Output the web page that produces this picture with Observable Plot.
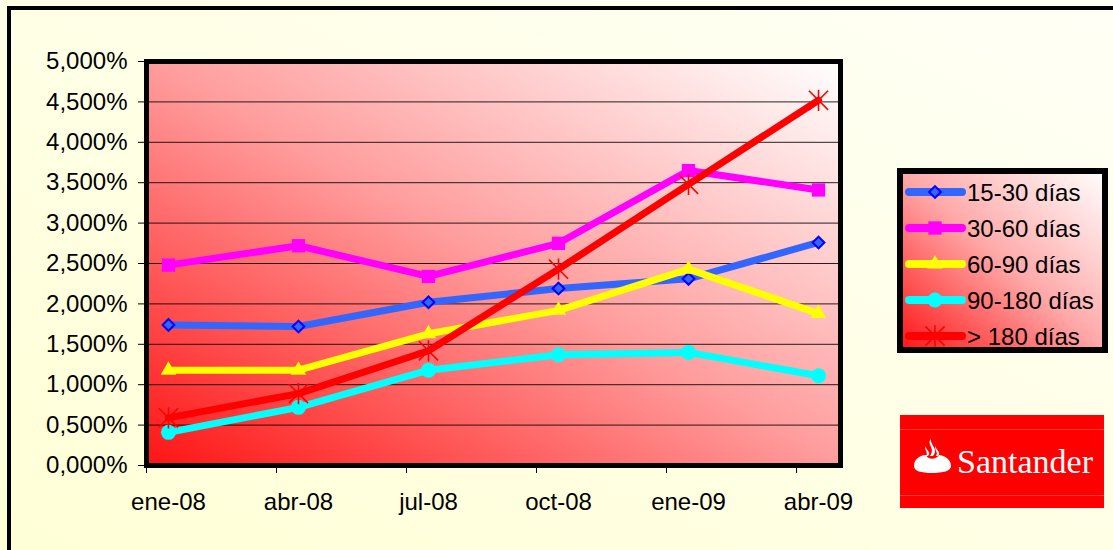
<!DOCTYPE html>
<html><head><meta charset="utf-8">
<script src="https://cdn.jsdelivr.net/npm/d3@7"></script>
<script src="https://cdn.jsdelivr.net/npm/@observablehq/plot@0.6"></script>
<style>
html,body{margin:0;padding:0;width:1113px;height:550px;overflow:hidden;}
body{background:linear-gradient(to top right,#FFFFD6,#FFFFF6);font-family:"Liberation Sans",Arial,sans-serif;position:relative;}
#frame{position:absolute;left:7px;top:6px;width:1200px;height:700px;border-left:4px solid #000;border-top:4px solid #000;}
#chart{position:absolute;left:0;top:0;}
.overlay{position:absolute;left:0;top:0;pointer-events:none;}
</style></head><body>
<div id="frame"></div>
<div id="chart"></div>
<script>
// ---- data ----
const categories = ["ene-08","abr-08","jul-08","oct-08","ene-09","abr-09"];
const seriesNames = ["15-30 días","30-60 días","60-90 días","90-180 días","> 180 días"];
const s15_30  = [1.74, 1.72, 2.02, 2.19, 2.31, 2.76];
const s30_60  = [2.48, 2.72, 2.34, 2.75, 3.65, 3.41];
const s60_90  = [1.18, 1.18, 1.63, 1.92, 2.43, 1.88];
const s90_180 = [0.41, 0.72, 1.18, 1.37, 1.40, 1.11];
const s180    = [0.59, 0.89, 1.42, 2.43, 3.48, 4.52];
const yTicks  = [0, 0.5, 1, 1.5, 2, 2.5, 3, 3.5, 4, 4.5, 5];
const logoText = "Santander";

// ---- styles ----
const star = {draw(ctx, size){const r=Math.sqrt(size)*0.6, d=r*0.9;
  ctx.moveTo(0,-r);ctx.lineTo(0,r);ctx.moveTo(-d,-d);ctx.lineTo(d,d);ctx.moveTo(-d,d);ctx.lineTo(d,-d);}};
const styles = [
  {values:s15_30,  color:"#3366FF", symbol:"diamond2", d3sym:d3.symbolDiamond2, r:5.3, fill:"#3366FF", mstroke:"#0000FF", msw:2},
  {values:s30_60,  color:"#FF00FF", symbol:"square",   d3sym:d3.symbolSquare,   r:7.5, fill:"#FF00FF", mstroke:"none", msw:0},
  {values:s60_90,  color:"#FFFF00", symbol:"triangle", d3sym:d3.symbolTriangle, r:5.8, fill:"#FFFF00", mstroke:"none", msw:0},
  {values:s90_180, color:"#00FFFF", symbol:"circle",   d3sym:d3.symbolCircle,   r:7.5, fill:"#00FFFF", mstroke:"none", msw:0},
  {values:s180,    color:"#FF0000", symbol:star,       d3sym:star,              r:10,  fill:"none",    mstroke:"#FF0000", msw:1.6}
];
const fmt = v => d3.format(".3f")(v).replace(".", ",") + "%";
const pad = 0.169;
const FONT = '"Liberation Sans", Arial, sans-serif';

const seriesMarks = styles.flatMap(s => [
  Plot.line(s.values, {x:(d,i)=>i, y:d=>d, stroke:s.color, strokeWidth:7, strokeLinejoin:"round", strokeLinecap:"round"}),
  Plot.dot(s.values, {x:(d,i)=>i, y:d=>d, symbol:s.symbol, r:s.r, fill:s.fill, stroke:s.mstroke, strokeWidth:s.msw})
]);

const chart = Plot.plot({
  width:1113, height:550,
  marginLeft:146, marginRight:273, marginTop:61, marginBottom:85,
  style:{background:"transparent", fontSize:"24px", fontFamily:FONT, color:"#000", overflow:"visible"},
  x:{domain:[-pad, categories.length-1+pad]},
  y:{domain:[0,5]},
  marks:[
    Plot.frame({fill:"url(#plotGrad)"}),
    Plot.gridY({ticks:yTicks.slice(1,-1), stroke:"#000", strokeOpacity:0.85, strokeWidth:1}),
    ...seriesMarks,
    Plot.frame({stroke:"#000", strokeWidth:5}),
    Plot.axisY({ticks:yTicks, tickFormat:fmt, tickSize:8, tickPadding:11, stroke:"#000"}),
    Plot.axisX({ticks:categories.map((c,i)=>i-pad), tickFormat:()=>"", tickSize:8, stroke:"#000"}),
    Plot.axisX({ticks:categories.map((c,i)=>i), tickFormat:i=>categories[i], tickSize:0, tickPadding:27})
  ]
});
const defs = d3.select(chart).insert("defs", ":first-child");
const g = defs.append("linearGradient").attr("id","plotGrad").attr("x1",0).attr("y1",1).attr("x2",1).attr("y2",0);
g.append("stop").attr("offset","0").attr("stop-color","#FF1414");
g.append("stop").attr("offset","0.5").attr("stop-color","#FF9C9C");
g.append("stop").attr("offset","1").attr("stop-color","#FFFFFF");
document.getElementById("chart").appendChild(chart);

// ---- legend + logo overlay ----
const ov = d3.select("body").append("svg").attr("class","overlay").attr("width",1113).attr("height",550);
const od = ov.append("defs");
const lg = od.append("linearGradient").attr("id","legGrad").attr("x1",0).attr("y1",1).attr("x2",1).attr("y2",0);
lg.append("stop").attr("offset","0").attr("stop-color","#FF1414");
lg.append("stop").attr("offset","0.5").attr("stop-color","#FFA8A8");
lg.append("stop").attr("offset","1").attr("stop-color","#FFFFFF");
ov.append("rect").attr("x",900).attr("y",171).attr("width",205).attr("height",179)
  .attr("fill","url(#legGrad)").attr("stroke","#000").attr("stroke-width",6);
seriesNames.forEach((name, i) => {
  const s = styles[i], cy = 192 + 36*i;
  ov.append("line").attr("x1",909).attr("x2",962).attr("y1",cy).attr("y2",cy)
    .attr("stroke",s.color).attr("stroke-width",8).attr("stroke-linecap","round");
  ov.append("path").attr("transform",`translate(935,${cy})`)
    .attr("d", d3.symbol(s.d3sym, Math.PI*s.r*s.r)())
    .attr("fill",s.fill).attr("stroke",s.mstroke).attr("stroke-width",s.msw);
  ov.append("text").attr("x",967).attr("y",cy).attr("dy","0.36em")
    .attr("font-family",FONT).attr("font-size",24).attr("fill","#000").text(name);
});
// Santander logo
ov.append("rect").attr("x",900).attr("y",415).attr("width",204).attr("height",93).attr("fill","#FF0000");
ov.append("line").attr("x1",900).attr("x2",1104).attr("y1",429.5).attr("y2",429.5).attr("stroke","#FF3A3A").attr("stroke-width",1);
ov.append("line").attr("x1",900).attr("x2",1104).attr("y1",495.5).attr("y2",495.5).attr("stroke","#FF3A3A").attr("stroke-width",1);
ov.append("path").attr("fill","#fff")
  .attr("d","M914,466 C914,459 920,455 926,455 C928,460 936,460 939,455 C946,456 951,460 951,466 C951,471 943,473 932,473 C921,473 914,471 914,466 Z");
ov.append("path").attr("fill","#fff")
  .attr("d","M931,439 C926,444 936,448 930,456 L933,456 C939,449 930,445 931,439 Z");
ov.append("path").attr("fill","#fff")
  .attr("d","M926,446 C923,449 929,452 926,456 L928,456 C932,452 925,450 926,446 Z");
ov.append("path").attr("fill","#fff")
  .attr("d","M936,446 C933,449 939,452 936,456 L938,456 C942,452 935,450 936,446 Z");
ov.append("text").attr("x",957).attr("y",473).attr("font-family",'"Liberation Serif","DejaVu Serif",serif')
  .attr("font-size",34).attr("fill","#fff").text(logoText);
</script>
</body></html>
